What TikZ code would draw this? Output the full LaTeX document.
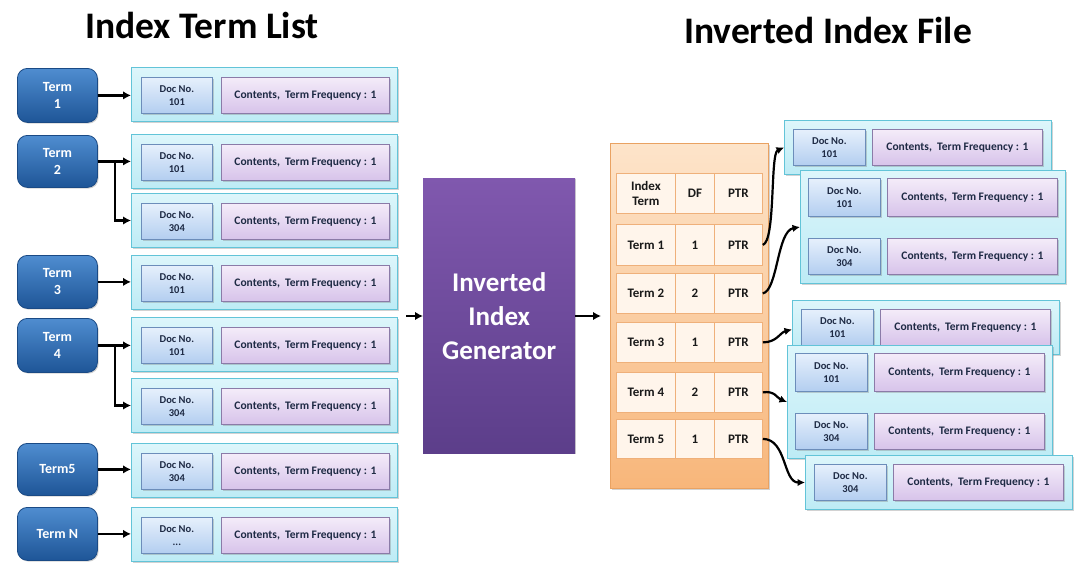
\documentclass[tikz,border=0pt]{standalone}
\usepackage{fontspec}
\setmainfont{Carlito}
\usetikzlibrary{arrows.meta,shadows,calc}
\definecolor{termT}{HTML}{4F8DD0}
\definecolor{termB}{HTML}{1E5597}
\definecolor{termD}{HTML}{1A4A85}
\definecolor{cyanT}{HTML}{DDF6FB}
\definecolor{cyanB}{HTML}{BDEBF5}
\definecolor{cyanD}{HTML}{62C4D8}
\definecolor{docT}{HTML}{E6F0FC}
\definecolor{docB}{HTML}{B3CEF0}
\definecolor{docD}{HTML}{6C8DBA}
\definecolor{contT}{HTML}{F4ECF9}
\definecolor{contB}{HTML}{D7C3EA}
\definecolor{contD}{HTML}{8B7BA8}
\definecolor{genT}{HTML}{8058AE}
\definecolor{genB}{HTML}{5C3E8A}
\definecolor{tabT}{HTML}{FDE4CA}
\definecolor{tabB}{HTML}{F8B67A}
\definecolor{tabD}{HTML}{E9A262}
\definecolor{cellD}{HTML}{EFB07A}
\definecolor{txtDark}{HTML}{1E2A44}
\newcommand\fsz[2]{\fontsize{#1}{#2}\selectfont}
\newcommand\bx[7]{%
  \pgfmathsetmacro\bxw{(#5)-(#3)}\pgfmathsetmacro\bxh{(#6)-(#4)}%
  \node[#2,anchor=north west,minimum width=\bxw pt,minimum height=\bxh pt,inner sep=0pt] (#1) at ({#3},{#4}) {#7};}
\tikzset{
  shd/.style={drop shadow={opacity=0.35,shadow xshift=1.2pt,shadow yshift=-1.2pt}},
  termbox/.style={rounded corners=10pt,top color=termT,bottom color=termB,draw=termD,line width=0.8pt,
    text=white,font=\fsz{14}{17}\bfseries,align=center,shd},
  outerbox/.style={top color=cyanT,bottom color=cyanB,draw=cyanD,line width=1pt,shd},
  docbox/.style={top color=docT,bottom color=docB,draw=docD,line width=0.8pt,
    text=txtDark,font=\fsz{10.5}{13}\bfseries,align=center,shd},
  contbox/.style={top color=contT,bottom color=contB,draw=contD,line width=0.8pt,
    text=txtDark,font=\fsz{11.5}{13}\bfseries,align=center,shd},
  genbox/.style={top color=genT,bottom color=genB,draw=none,text=white,
    font=\fsz{27}{34}\bfseries,align=center,shd},
  tabbox/.style={top color=tabT,bottom color=tabB,draw=tabD,line width=1pt,shd},
  cellbox/.style={fill=white!92!orange,draw=cellD,line width=0.8pt,text=black!90,
    font=\fsz{13}{15}\bfseries,align=center},
  titletext/.style={font=\fsz{37.5}{40}\bfseries,text=black},
  arr/.style={line width=2.6pt,-{Latex[length=8pt,width=8.5pt]}},
  carr/.style={line width=2.2pt,-{Latex[length=7.5pt,width=7.5pt]}},
}
\newcommand\lrow[3]{%
  \bx{#1}{outerbox}{131}{#2}{397}{#2+54}{}%
  \bx{#1d}{docbox}{141}{#2+10}{212}{#2+46}{Doc No.\\#3}%
  \bx{#1c}{contbox}{221}{#2+10}{389}{#2+46}{Contents,\ \ Term Frequency : 1}}
\newcommand\rone[4]{%
  \bx{#1}{outerbox}{#2}{#3}{#2+267}{#3+54}{}%
  \bx{#1d}{docbox}{#2+9}{#3+9}{#2+81}{#3+45}{Doc No.\\#4}%
  \bx{#1c}{contbox}{#2+88}{#3+9}{#2+258}{#3+45}{Contents,\ \ Term Frequency : 1}}
\newcommand\rtwo[3]{%
  \bx{#1}{outerbox}{#2}{#3}{#2+265}{#3+113}{}%
  \bx{#1d}{docbox}{#2+8}{#3+8}{#2+80}{#3+46}{Doc No.\\101}%
  \bx{#1c}{contbox}{#2+87}{#3+8}{#2+257}{#3+46}{Contents,\ \ Term Frequency : 1}%
  \bx{#1e}{docbox}{#2+8}{#3+68}{#2+80}{#3+104}{Doc No.\\304}%
  \bx{#1f}{contbox}{#2+87}{#3+68}{#2+257}{#3+104}{Contents,\ \ Term Frequency : 1}}
\newcommand\trow[6]{%
  \bx{#1a}{cellbox}{616}{#2}{675}{#3}{#4}%
  \bx{#1b}{cellbox}{675}{#2}{714}{#3}{#5}%
  \bx{#1c}{cellbox}{714}{#2}{762}{#3}{#6}}
\begin{document}
\begin{tikzpicture}[x=1pt,y=-1pt]
\useasboundingbox[fill=white] (0,0) rectangle (1092,573);
% titles
\node[titletext] (t1) at (202,25) {Index Term List};
\node[titletext] (t2) at (828,30) {Inverted Index File};
% left term boxes
\bx{T1}{termbox}{17}{68}{97}{122}{Term\\1}
\bx{T2}{termbox}{17}{135}{97}{187}{Term\\2}
\bx{T3}{termbox}{17}{255}{97}{308}{Term\\3}
\bx{T4}{termbox}{17}{318}{97}{372}{Term\\4}
\bx{T5}{termbox}{17}{443}{97}{495}{Term5}
\bx{TN}{termbox}{17}{507}{97}{560}{Term N}
% left rows
\lrow{L1}{67}{101}
\lrow{L2}{134}{101}
\lrow{L2b}{193}{304}
\lrow{L3}{255}{101}
\lrow{L4}{317}{101}
\lrow{L4b}{378}{304}
\lrow{L5}{443}{304}
\lrow{LN}{507}{...}
% left arrows
\draw[arr] (T1.east) -- (T1.east -| L1.west);
\draw[arr] (T2.east) -- (T2.east -| L2.west);
\coordinate (b2) at (115,161);
\draw[arr] (b2) |- (L2b.west);
\draw[arr] (T3.east) -- (T3.east -| L3.west);
\draw[arr] (T4.east) -- (T4.east -| L4.west);
\coordinate (b4) at (115,345);
\draw[arr] (b4) |- (L4b.west);
\draw[arr] (T5.east) -- (T5.east -| L5.west);
\draw[arr] (TN.east) -- (TN.east -| LN.west);
% generator
\bx{gen}{genbox}{423}{178}{575}{453}{Inverted\\Index\\Generator}
\coordinate (gin) at (406,316);
\draw[arr] (gin) -- (gin -| gen.west);
\coordinate (gout) at (601,316);
\draw[arr] (gen.east |- gout) -- (gout);
% table
\bx{tab}{tabbox}{610}{143}{768}{488}{}
\trow{h}{173}{213}{Index\\Term}{DF}{PTR}
\trow{r1}{224}{265}{Term 1}{1}{PTR}
\trow{r2}{273}{313}{Term 2}{2}{PTR}
\trow{r3}{322}{362}{Term 3}{1}{PTR}
\trow{r4}{372}{412}{Term 4}{2}{PTR}
\trow{r5}{419}{458}{Term 5}{1}{PTR}
% right groups
\rone{gA}{784}{120}{101}
\rtwo{gB}{800}{170}
\rone{gC}{792}{300}{101}
\rtwo{gD}{787}{345}
\rone{gE}{805}{455}{304}
% curved pointers
\draw[carr] (r1c.east) .. controls +(13,-4) and +(-14,6) .. (gA.west);
\draw[carr] (r2c.east) .. controls +(15,-3) and +(-23,4) .. (gB.west);
\draw[carr] (r3c.east) .. controls +(14,0) and +(-12,3) .. ([yshift=-2pt]gC.west);
\draw[carr] (r4c.east) .. controls +(12,-2) and +(-10,-4) .. (gD.west);
\draw[carr] (r5c.east) .. controls +(24,0) and +(-22,0) .. (gE.west);
\end{tikzpicture}
\end{document}
